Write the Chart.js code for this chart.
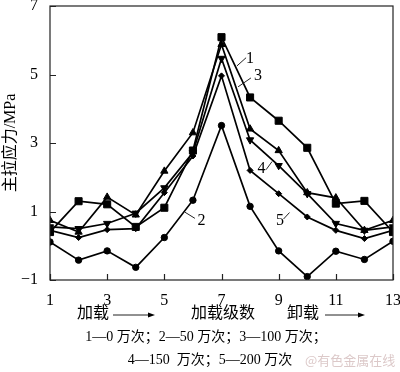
<!DOCTYPE html>
<html>
<head>
<meta charset="utf-8">
<script src="https://cdn.jsdelivr.net/npm/chart.js@4/dist/chart.umd.min.js"></script>
<style>
  html,body{margin:0;padding:0;background:#fff;}
  #wrap{position:relative;width:400px;height:372px;}
</style>
</head>
<body>
<div id="wrap"><canvas id="c" width="400" height="372"></canvas></div>
<script>
// Loading stage (x) values
const stages = [1,2,3,4,5,6,7,8,9,10,11,12,13];
// Principal tensile stress (MPa) per series
const s1_0    = [0.40, 1.30, 1.21, 0.55, 1.11, 2.78, 6.09, 4.33, 3.65, 2.86, 1.23, 1.31, 0.40];
const s2_50   = [0.11,-0.42,-0.15,-0.63, 0.24, 1.33, 3.51, 1.15,-0.15,-0.90,-0.16,-0.40, 0.13];
const s3_100  = [0.74, 0.40, 1.42, 0.90, 2.18, 3.30, 5.88, 3.41, 2.78, 1.55, 1.40, 0.45, 0.74];
const s4_150  = [0.55, 0.50, 0.65, 0.95, 1.69, 2.72, 5.47, 3.09, 2.34, 1.52, 0.65, 0.45, 0.55];
const s5_200  = [0.45, 0.24, 0.47, 0.50, 1.55, 2.62, 4.96, 2.20, 1.52, 0.84, 0.45, 0.21, 0.45];
const xTicks = [1,3,5,7,9,11,13];
const yTicks = [-1,1,3,5,7];
const yTitle = '主拉应力/MPa';
const curveLabels = ['1','2','3','4','5'];
const bottomTexts = ['加载','加载级数','卸载'];
const legendLine1 = '1—0 万次；2—50 万次；3—100 万次；';
const legendLine2 = '4—150  万次；5—200 万次';
const watermark = '@有色金属在线';

const pts = arr => arr.map((v,i)=>({x:stages[i], y:v}));
const SERIF = "'Liberation Serif','Noto Sans CJK SC'";

function ds(data, style, radius, rot){
  return {data:pts(data), borderColor:'#000', backgroundColor:'#000', borderWidth:1.7,
    pointStyle:style, pointRadius:radius, pointRotation:rot||0, pointBorderWidth:1,
    pointBackgroundColor:'#000', pointBorderColor:'#000', tension:0, fill:false};
}

const overlay = {
  id:'overlay',
  afterDraw(chart){
    const ctx = chart.ctx, xs = chart.scales.x, ys = chart.scales.y, a = chart.chartArea;
    const X = v=>xs.getPixelForValue(v), Y = v=>ys.getPixelForValue(v);
    ctx.save();
    // frame
    ctx.strokeStyle = '#222'; ctx.lineWidth = 1.2;
    ctx.strokeRect(a.left, a.top, a.right-a.left, a.bottom-a.top);
    // inner ticks
    ctx.beginPath();
    xTicks.forEach(t=>{ const px=Math.round(X(t))+0.5; ctx.moveTo(px,a.bottom); ctx.lineTo(px,a.bottom-6); });
    yTicks.forEach(t=>{ const py=Math.round(Y(t))+0.5; ctx.moveTo(a.left,py); ctx.lineTo(a.left+6,py); });
    ctx.stroke();
    // curve labels with leader lines (data coordinates)
    ctx.fillStyle = '#000'; ctx.font = "16px "+SERIF; ctx.textAlign='center'; ctx.textBaseline='middle';
    ctx.lineWidth = 1;
    const lab = [
      {t:curveLabels[0], tx:8.00, ty:5.45, l:[7.54,5.25,7.86,5.49]},
      {t:curveLabels[2], tx:8.28, ty:4.95, l:[7.58,4.64,8.03,4.90]},
      {t:curveLabels[3], tx:8.40, ty:2.25, l:[8.56,2.22,8.77,2.46]},
      {t:curveLabels[4], tx:9.05, ty:0.72, l:[9.17,0.78,9.38,0.97]},
      {t:curveLabels[1], tx:6.30, ty:0.72, l:[5.72,0.98,6.07,0.80]}
    ];
    lab.forEach(o=>{
      ctx.fillText(o.t, X(o.tx), Y(o.ty));
      ctx.beginPath(); ctx.moveTo(X(o.l[0]),Y(o.l[1])); ctx.lineTo(X(o.l[2]),Y(o.l[3])); ctx.stroke();
    });
    // bottom texts
    ctx.font = "16px "+SERIF; ctx.textAlign='left';
    const by = 314;
    ctx.fillText(bottomTexts[0], 77, by);
    ctx.textAlign='center';
    ctx.fillText(bottomTexts[1], 223, by);
    ctx.textAlign='left';
    ctx.fillText(bottomTexts[2], 287, by);
    function arrow(x1,x2,y){
      ctx.beginPath(); ctx.moveTo(x1,y); ctx.lineTo(x2-5,y); ctx.stroke();
      ctx.beginPath(); ctx.moveTo(x2,y); ctx.lineTo(x2-7,y-2.5); ctx.lineTo(x2-7,y+2.5); ctx.closePath(); ctx.fill();
    }
    ctx.lineWidth = 1;
    arrow(113,155,by+1);
    arrow(325,365,by+1);
    // legend lines
    ctx.font = "14px "+SERIF; ctx.textAlign='center';
    ctx.fillText(legendLine1, 206, 337);
    ctx.fillText(legendLine2, 210, 360);
    // watermark
    ctx.fillStyle = '#dcc9c9'; ctx.font = "13px 'Noto Sans CJK SC'"; ctx.textAlign='left';
    ctx.fillText(watermark, 305, 360);
    ctx.restore();
  }
};

new Chart(document.getElementById('c'), {
  type:'line',
  data:{datasets:[
    ds(s1_0,'rect',5),
    ds(s2_50,'circle',3.2),
    ds(s3_100,'triangle',4.2),
    ds(s4_150,'triangle',4.2,180),
    ds(s5_200,'rectRot',3)
  ]},
  options:{
    responsive:false, animation:false,
    layout:{padding:{top:5,right:7,left:0,bottom:0}},
    plugins:{legend:{display:false}, tooltip:{enabled:false}},
    scales:{
      x:{type:'linear', min:1, max:13,
        afterBuildTicks(s){ s.ticks = xTicks.map(v=>({value:v})); },
        afterFit(s){ s.height = 92; s.paddingLeft = 0; s.paddingRight = 0; },
        grid:{display:false}, border:{display:false},
        ticks:{font:{family:SERIF,size:16}, color:'#000', padding:3, maxRotation:0, autoSkip:false}},
      y:{type:'linear', min:-1, max:7,
        afterBuildTicks(s){ s.ticks = yTicks.map(v=>({value:v})); },
        afterFit(s){ s.width = 50; s.paddingTop = 0; s.paddingBottom = 0; },
        grid:{display:false}, border:{display:false},
        ticks:{font:{family:SERIF,size:16}, color:'#000', padding:4,
          callback:v=> v<0 ? '−'+Math.abs(v) : String(v)},
        title:{display:true, text:yTitle, color:'#000', font:{family:SERIF,size:16}, padding:{top:1,bottom:0}}}
    }
  },
  plugins:[overlay]
});
</script>
</body>
</html>
